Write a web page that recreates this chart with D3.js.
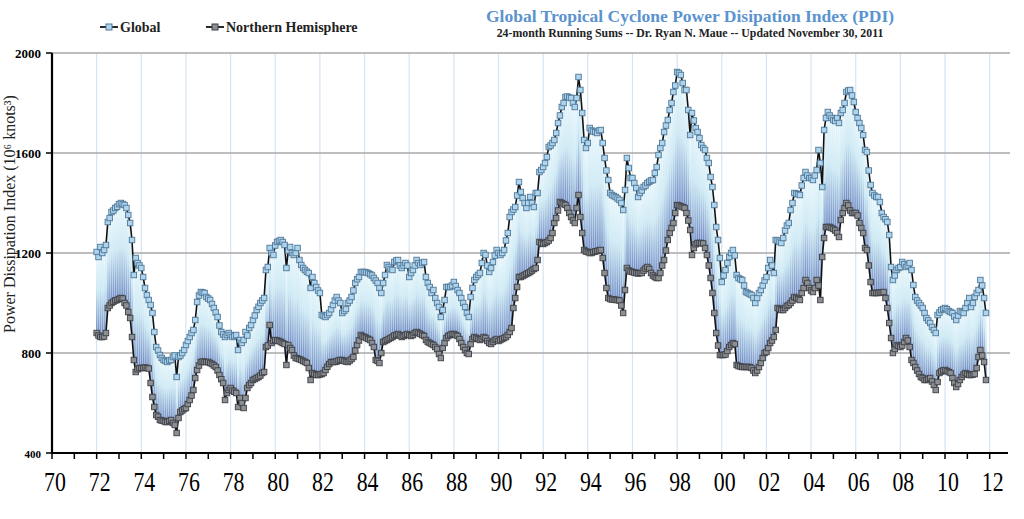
<!DOCTYPE html>
<html><head><meta charset="utf-8">
<script src="https://cdn.jsdelivr.net/npm/d3@7"></script>
<style>
body{margin:0;background:#fff;}
svg{display:block;}
</style></head>
<body>
<svg id="c" width="1024" height="519"></svg>
<script>
// ---- DATA (monthly values, Jan 1972 .. Nov 2011), one row per year ----
const startYear = 1972;
const globalPDI = [
 [1204,1184,1224,1200,1212,1232,1324,1340,1364,1370,1380,1385], // 1972
 [1395,1400,1396,1392,1380,1352,1320,1252,1112,1180,1160,1150], // 1973
 [1140,1104,1060,1032,1012,992,960,884,824,810,792,780],         // 1974
 [772,768,764,770,772,784,790,704,784,790,800,812],              // 1975
 [832,848,864,880,892,932,1004,1030,1044,1042,1040,1024],        // 1976
 [1018,1012,996,980,962,944,910,884,874,864,872,880],            // 1977
 [872,864,868,872,812,852,840,852,884,870,900,912],              // 1978
 [932,950,972,985,1000,1010,1020,1132,1144,1220,1200,1192],      // 1979
 [1230,1244,1248,1252,1244,1232,1140,1210,1224,1200,1192,1200],  // 1980
 [1220,1172,1152,1140,1132,1125,1120,1060,1104,1080,1064,1050],  // 1981
 [1040,952,948,944,952,960,975,992,1010,1024,1010,1000],         // 1982
 [960,968,976,1000,1010,1024,1050,1080,1095,1104,1124,1124],     // 1983
 [1124,1122,1120,1115,1110,1100,1090,1080,1060,1040,1080,1112],  // 1984
 [1152,1144,1136,1132,1164,1170,1172,1150,1140,1150,1160,1150],  // 1985
 [1104,1120,1132,1150,1172,1160,1152,1160,1164,1104,1080,1064],  // 1986
 [1040,1052,1020,1000,984,944,972,1012,1064,1064,1064,1070],     // 1987
 [1084,1068,1052,1040,1020,1000,984,960,944,1024,1060,1092],     // 1988
 [1104,1112,1120,1160,1200,1192,1150,1124,1140,1164,1190,1212],  // 1989
 [1200,1192,1200,1212,1250,1280,1344,1364,1374,1384,1430,1484],  // 1990
 [1444,1420,1400,1380,1400,1424,1400,1384,1440,1440,1524,1532],  // 1991
 [1544,1560,1584,1624,1630,1640,1652,1680,1720,1750,1784,1800],  // 1992
 [1824,1826,1822,1820,1800,1784,1820,1904,1852,1760,1652,1620],  // 1993
 [1640,1700,1690,1686,1684,1680,1690,1692,1640,1580,1530,1492],  // 1994
 [1440,1432,1428,1424,1418,1412,1400,1372,1452,1580,1540,1500],  // 1995
 [1500,1480,1460,1424,1440,1450,1464,1470,1480,1485,1490,1492],  // 1996
 [1520,1544,1592,1620,1640,1684,1710,1732,1772,1800,1844,1870],  // 1997
 [1924,1920,1912,1880,1852,1852,1772,1672,1760,1730,1700,1684],  // 1998
 [1660,1632,1620,1612,1580,1560,1504,1464,1392,1304,1252,1180],  // 1999
 [1084,1110,1132,1160,1184,1200,1212,1190,1112,1100,1095,1092],  // 2000
 [1070,1044,1040,1036,1032,1020,1000,1020,1040,1052,1070,1090],  // 2001
 [1104,1140,1172,1150,1120,1252,1250,1245,1240,1260,1290,1310],  // 2002
 [1320,1372,1400,1440,1438,1435,1432,1470,1500,1524,1510,1500],  // 2003
 [1500,1492,1510,1532,1612,1560,1464,1692,1740,1764,1750,1740],  // 2004
 [1732,1728,1740,1720,1760,1772,1800,1844,1850,1852,1830,1804],  // 2005
 [1764,1740,1720,1700,1672,1612,1604,1530,1472,1440,1430,1424],  // 2006
 [1424,1404,1360,1344,1335,1324,1272,1144,1092,1110,1132,1140],  // 2007
 [1144,1164,1155,1144,1150,1160,1132,1072,1024,1010,1000,990],   // 2008
 [980,960,940,930,920,904,892,880,952,962,972,976],              // 2009
 [980,975,968,964,960,946,932,950,968,964,960,980],              // 2010
 [1000,1020,984,1000,1024,1040,1052,1092,1070,1020,960]          // 2011
];
const nhPDI = [
 [880,870,864,864,866,880,980,990,1000,1005,1010,1012],          // 1972
 [1016,1020,1018,1000,990,964,940,864,772,724,735,740],          // 1973
 [740,740,742,740,738,680,624,584,552,545,532,530],              // 1974
 [528,524,524,528,532,520,512,480,540,564,570,576],              // 1975
 [580,596,612,630,652,700,732,750,764,766,764,764],              // 1976
 [764,760,756,750,744,730,712,695,680,612,640,652],              // 1977
 [660,650,645,640,584,620,600,580,620,660,672,680],              // 1978
 [692,696,700,704,710,720,724,824,830,912,840,848],              // 1979
 [852,850,848,844,840,836,752,832,820,812,790,780],              // 1980
 [778,775,772,768,764,760,740,692,720,716,712,712],              // 1981
 [714,716,720,732,745,756,764,764,764,766,770,772],              // 1982
 [772,768,766,764,770,776,784,810,832,850,872,866],              // 1983
 [864,860,856,852,840,824,772,768,760,800,844,848],              // 1984
 [852,856,860,864,870,872,876,870,864,868,872,876],              // 1985
 [872,868,872,880,884,880,876,872,868,852,844,840],              // 1986
 [836,832,824,816,796,780,820,840,860,868,872,876],              // 1987
 [876,872,868,856,840,824,812,800,796,836,856,864],              // 1988
 [860,856,852,856,864,860,848,840,836,844,852,856],              // 1989
 [848,852,856,860,864,872,884,900,980,1020,1064,1104],           // 1990
 [1104,1108,1112,1116,1120,1124,1130,1136,1140,1172,1244,1240],  // 1991
 [1236,1240,1244,1250,1260,1280,1320,1340,1370,1404,1400,1396],  // 1992
 [1392,1380,1360,1344,1330,1320,1380,1432,1344,1280,1212,1206],  // 1993
 [1204,1200,1200,1204,1206,1208,1210,1212,1180,1120,1060,1020],  // 1994
 [1016,1014,1014,1012,1012,1010,990,960,1052,1140,1130,1126],    // 1995
 [1124,1122,1120,1118,1120,1120,1130,1138,1144,1136,1120,1110],  // 1996
 [1104,1100,1100,1120,1150,1172,1210,1252,1280,1300,1320,1360],  // 1997
 [1392,1390,1386,1384,1380,1360,1330,1292,1192,1220,1235,1240],  // 1998
 [1240,1240,1238,1220,1192,1150,1100,1040,960,880,830,792],      // 1999
 [792,792,794,808,824,832,840,836,752,748,746,744],              // 2000
 [744,744,744,744,740,730,720,730,744,760,780,800],              // 2001
 [804,820,840,850,864,892,980,976,972,972,980,988],              // 2002
 [992,1000,1010,1024,1020,1016,1012,1040,1060,1092,1080,1060],   // 2003
 [1050,1044,1060,1092,1070,1012,1184,1260,1304,1304,1304,1300],  // 2004
 [1296,1290,1280,1264,1332,1360,1380,1400,1390,1370,1360,1360],  // 2005
 [1360,1350,1320,1300,1280,1220,1212,1150,1084,1040,1040,1040],  // 2006
 [1040,1042,1042,1044,1020,980,920,860,800,816,832,828],         // 2007
 [824,830,844,860,850,824,772,760,744,730,716,704],              // 2008
 [700,692,692,696,700,686,672,652,684,720,726,730],              // 2009
 [732,728,724,720,700,680,664,676,692,704,714,720],              // 2010
 [716,712,712,714,716,740,784,812,790,764,692]                   // 2011
];
const yTicks = [400, 800, 1200, 1600, 2000];
const xLabelYears = d3.range(1970, 2013, 2);
const seriesNames = ["Global", "Northern Hemisphere"];
const titleText = "Global Tropical Cyclone Power Disipation Index (PDI)";
const subtitleText = "24-month Running Sums -- Dr. Ryan N. Maue -- Updated November 30, 2011";
const yAxisTitle = "Power Dissipation Index (10\u2076 knots\u00B3)";

// ---- build points ----
const points = [];
globalPDI.forEach((row, yi) => row.forEach((g, m) => {
  points.push({t: startYear + yi + m/12, g: g, n: nhPDI[yi][m]});
}));

const svg = d3.select("#c");
const x = d3.scaleLinear().domain([1970, 2013]).range([52, 1012]);
const y = d3.scaleLinear().domain([400, 2000]).range([453, 53]);
const serif = "'Liberation Serif','DejaVu Serif',serif";

// gradient
const defs = svg.append("defs");
const grad = defs.append("linearGradient").attr("id","bar").attr("x1",0).attr("y1",0).attr("x2",0).attr("y2",1);
grad.append("stop").attr("offset","0").attr("stop-color","#f2fbfe");
grad.append("stop").attr("offset","0.45").attr("stop-color","#cfeaf4");
grad.append("stop").attr("offset","1").attr("stop-color","#6c84c0");

// vertical gridlines
svg.append("g").selectAll("line").data(d3.range(1972, 2013, 2)).join("line")
  .attr("x1", d=>x(d)).attr("x2", d=>x(d)).attr("y1", y(2000)).attr("y2", y(400))
  .attr("stroke","#d6e4f3").attr("stroke-width",1.2);
// horizontal gridlines
svg.append("g").selectAll("line").data(yTicks.filter(v=>v>400)).join("line")
  .attr("x1", x(1970)).attr("x2", 1010).attr("y1", d=>y(d)).attr("y2", d=>y(d))
  .attr("stroke","#a8a8a8").attr("stroke-width",1.6);

// bars between series
const bw = (x(1) - x(0)) / 12;
svg.append("path")
  .attr("d", d3.area().x(d=>x(d.t)).y0(d=>y(d.n)).y1(d=>y(d.g))(points))
  .attr("fill","#d8eef7");
svg.append("g").selectAll("rect").data(points).join("rect")
  .attr("x", d=>x(d.t)-bw*0.3).attr("width", bw*0.75)
  .attr("y", d=>y(Math.max(d.g,d.n))).attr("height", d=>Math.abs(y(d.n)-y(d.g)))
  .attr("fill","url(#bar)");

// lines
const lineG = d3.line().x(d=>x(d.t)).y(d=>y(d.g));
const lineN = d3.line().x(d=>x(d.t)).y(d=>y(d.n));
svg.append("path").attr("d", lineG(points)).attr("fill","none").attr("stroke","#111").attr("stroke-width",1.6);
svg.append("path").attr("d", lineN(points)).attr("fill","none").attr("stroke","#111").attr("stroke-width",1.6);

// markers
const ms = 5.5;
svg.append("g").selectAll("rect").data(points).join("rect")
  .attr("x", d=>x(d.t)-ms/2).attr("y", d=>y(d.n)-ms/2).attr("width", ms).attr("height", ms)
  .attr("fill","#8c8f94").attr("stroke","#3c3f44").attr("stroke-width",0.9);
svg.append("g").selectAll("rect").data(points).join("rect")
  .attr("x", d=>x(d.t)-ms/2).attr("y", d=>y(d.g)-ms/2).attr("width", ms).attr("height", ms)
  .attr("fill","#aed4ee").attr("stroke","#4f7898").attr("stroke-width",0.9);

// axes
const ax = svg.append("g");
ax.append("line").attr("x1", x(1970)).attr("x2", x(1970)).attr("y1", y(2000)).attr("y2", y(400)+1).attr("stroke","#000").attr("stroke-width",2.2);
ax.append("line").attr("x1", x(1970)-1).attr("x2", 1008).attr("y1", y(400)).attr("y2", y(400)).attr("stroke","#000").attr("stroke-width",2.2);
ax.selectAll(".yt").data(yTicks).join("line")
  .attr("x1", x(1970)-6).attr("x2", x(1970)).attr("y1", d=>y(d)).attr("y2", d=>y(d)).attr("stroke","#000").attr("stroke-width",1.5);
ax.selectAll(".xt").data(d3.range(1970, 2013, 1)).join("line")
  .attr("x1", d=>x(d)).attr("x2", d=>x(d)).attr("y1", y(400)).attr("y2", y(400)+6).attr("stroke","#000").attr("stroke-width",1.5);
ax.selectAll(".yl").data(yTicks).join("text")
  .attr("x", 41).attr("y", d=>y(d)+5).attr("text-anchor","end")
  .attr("font-family", serif).attr("font-weight","bold").attr("font-size", d=>d===400?11:13)
  .text(d=>d);
ax.selectAll(".xl").data(xLabelYears).join("text")
  .attr("transform", d=>`translate(${x(d)+3},491) scale(0.78,1)`)
  .attr("text-anchor","middle")
  .attr("font-family", serif).attr("font-size", 28)
  .text(d=>String(d%100).padStart(2,"0"));

// y axis title
svg.append("text").attr("transform","translate(15,214) rotate(-90)")
  .attr("text-anchor","middle").attr("font-family", serif).attr("font-size",16)
  .attr("fill","#222").text(yAxisTitle);

// legend
const leg = svg.append("g").attr("font-family", serif).attr("font-size",14).attr("font-weight","bold");
[[100, seriesNames[0], "#aed4ee", "#4f7898"], [206, seriesNames[1], "#8c8f94", "#3c3f44"]].forEach(([lx, name, f, s])=>{
  leg.append("line").attr("x1", lx).attr("x2", lx+18).attr("y1",27).attr("y2",27).attr("stroke","#111").attr("stroke-width",1.8);
  leg.append("rect").attr("x", lx+6).attr("y",24).attr("width",6).attr("height",6).attr("fill",f).attr("stroke",s);
  leg.append("text").attr("x", lx+20).attr("y",32).attr("fill","#222").text(name);
});

// title
svg.append("text").attr("x", 690).attr("y", 22).attr("text-anchor","middle")
  .attr("font-family", serif).attr("font-weight","bold").attr("font-size",17.5).attr("fill","#5b93cf").text(titleText);
svg.append("text").attr("x", 690).attr("y", 37).attr("text-anchor","middle")
  .attr("font-family", serif).attr("font-weight","bold").attr("font-size",11.8).attr("fill","#222").text(subtitleText);
</script>
</body></html>
